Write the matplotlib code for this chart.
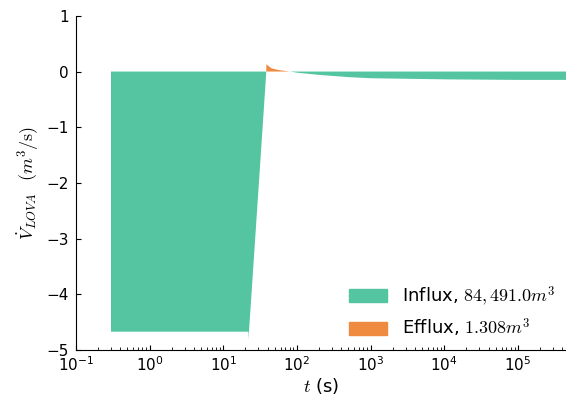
import matplotlib
matplotlib.use('Agg')
import matplotlib.pyplot as plt
from matplotlib.patches import Patch
import numpy as np

plt.rcParams['mathtext.fontset'] = 'cm'

# time (s) and volumetric flow rate (m^3/s)
t = np.array([0.3, 0.3, 1.0, 10.0, 22.0, 22.0, 38.5, 38.5, 45.0, 55.0, 70.0, 81.0,
              100.0, 200.0, 500.0, 1e3, 1e4, 1e5, 4.5e5])
v = np.array([0.0, -4.67, -4.67, -4.67, -4.67, -4.82, 0.0, 0.13, 0.06, 0.03, 0.01, 0.0,
              -0.02, -0.06, -0.10, -0.12, -0.14, -0.15, -0.15])

influx_label = r'Influx, $84,491.0m^3$'
efflux_label = r'Efflux, $1.308m^3$'
green = '#54c5a0'
orange = '#ef8a41'

fig = plt.figure(figsize=(5.66, 3.96), dpi=100)
ax = fig.add_axes([0.134, 0.116, 0.866, 0.844])

ax.fill_between(t, v, 0, where=v <= 0, interpolate=True, color=green, lw=0)
ax.fill_between(t, v, 0, where=v >= 0, interpolate=True, color=orange, lw=0)

ax.set_xscale('log')
ax.set_xlim(0.1, 4.5e5)
ax.set_ylim(-5, 1)
ax.set_yticks([-5, -4, -3, -2, -1, 0, 1])

ax.spines['top'].set_visible(False)
ax.spines['right'].set_visible(False)
ax.tick_params(direction='in', labelsize=11)
ax.tick_params(which='minor', direction='in')
ax.tick_params(axis='y', pad=5)
ax.xaxis.set_ticks_position('bottom')
ax.yaxis.set_ticks_position('left')

ax.set_xlabel(r'$t$ (s)', fontsize=13, labelpad=2)
ax.set_ylabel(r'$\dot{V}_{LOVA}$  $(m^3/\mathrm{s})$', fontsize=13)

handles = [Patch(color=green, label=influx_label), Patch(color=orange, label=efflux_label)]
ax.legend(handles=handles, loc='lower right', frameon=False, fontsize=13,
          handlelength=2.1, borderaxespad=0.2)

fig.savefig('out.png', dpi=100)
